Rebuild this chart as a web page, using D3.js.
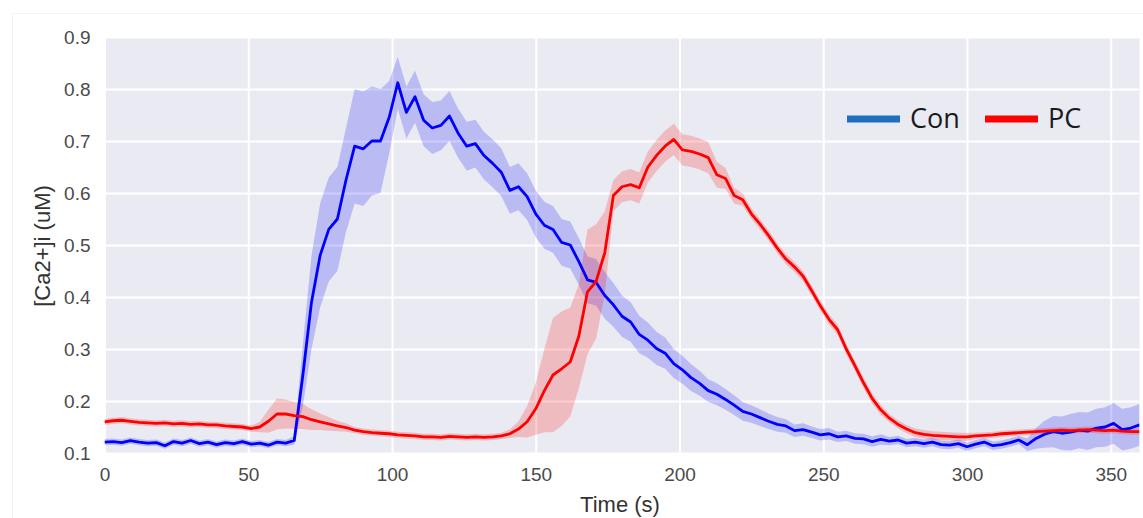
<!DOCTYPE html>
<html>
<head>
<meta charset="utf-8">
<script src="https://cdn.jsdelivr.net/npm/d3@7"></script>
<style>
  html, body { margin: 0; padding: 0; background: #ffffff; }
  svg { display: block; }
</style>
</head>
<body>
<svg id="chart" width="1143" height="518"></svg>
<script>
// ---- data ----
const timeStep = 3; // seconds between samples, t = 0, 3, ..., 360
const xTicks = [0, 50, 100, 150, 200, 250, 300, 350];
const yTicks = [0.1, 0.2, 0.3, 0.4, 0.5, 0.6, 0.7, 0.8, 0.9];
const seriesNames = ["Con", "PC"];

const conMean = [
  0.121,0.122,0.120,0.124,0.121,0.119,0.120,0.114,0.122,0.119,
  0.124,0.118,0.121,0.116,0.120,0.118,0.122,0.117,0.119,0.115,
  0.121,0.119,0.124,0.250,0.390,0.480,0.530,0.550,0.625,0.690,
  0.685,0.700,0.700,0.745,0.812,0.755,0.785,0.740,0.725,0.730,
  0.748,0.715,0.690,0.695,0.672,0.657,0.640,0.605,0.612,0.593,
  0.560,0.538,0.530,0.505,0.500,0.468,0.433,0.428,0.403,0.385,
  0.363,0.352,0.328,0.317,0.301,0.292,0.272,0.260,0.245,0.234,
  0.220,0.213,0.203,0.192,0.180,0.175,0.168,0.161,0.155,0.152,
  0.143,0.145,0.140,0.135,0.137,0.131,0.133,0.128,0.127,0.122,
  0.126,0.123,0.125,0.119,0.121,0.118,0.121,0.116,0.115,0.118,
  0.112,0.117,0.121,0.114,0.116,0.120,0.125,0.116,0.128,0.136,
  0.141,0.138,0.140,0.144,0.142,0.148,0.150,0.157,0.145,0.148,
  0.154
];
const conSem = [
  0.006,0.006,0.006,0.006,0.006,0.006,0.006,0.006,0.006,0.006,
  0.006,0.006,0.006,0.006,0.006,0.006,0.006,0.006,0.006,0.006,
  0.006,0.006,0.008,0.060,0.090,0.100,0.100,0.100,0.100,0.110,
  0.110,0.105,0.100,0.070,0.050,0.050,0.050,0.050,0.050,0.048,
  0.048,0.047,0.047,0.046,0.046,0.046,0.046,0.045,0.045,0.045,
  0.045,0.045,0.045,0.045,0.045,0.045,0.045,0.045,0.045,0.042,
  0.040,0.038,0.036,0.034,0.032,0.030,0.028,0.027,0.026,0.024,
  0.022,0.021,0.020,0.019,0.018,0.017,0.016,0.015,0.014,0.013,
  0.012,0.012,0.011,0.011,0.011,0.010,0.010,0.010,0.010,0.010,
  0.010,0.008,0.008,0.008,0.008,0.008,0.008,0.008,0.008,0.008,
  0.008,0.008,0.008,0.008,0.008,0.008,0.008,0.012,0.020,0.026,
  0.030,0.032,0.035,0.035,0.036,0.037,0.038,0.039,0.040,0.040,
  0.040
];
const pcMean = [
  0.160,0.162,0.163,0.161,0.159,0.158,0.157,0.158,0.156,0.157,
  0.155,0.156,0.154,0.154,0.152,0.151,0.150,0.147,0.150,0.161,
  0.175,0.175,0.172,0.170,0.164,0.160,0.156,0.152,0.149,0.144,
  0.141,0.139,0.138,0.137,0.135,0.134,0.133,0.131,0.131,0.130,
  0.132,0.131,0.130,0.131,0.130,0.131,0.133,0.137,0.146,0.160,
  0.185,0.220,0.250,0.262,0.275,0.325,0.410,0.430,0.485,0.595,
  0.612,0.616,0.610,0.650,0.672,0.690,0.703,0.683,0.680,0.675,
  0.668,0.635,0.628,0.595,0.587,0.560,0.540,0.518,0.494,0.473,
  0.458,0.440,0.412,0.383,0.357,0.337,0.300,0.268,0.235,0.205,
  0.183,0.167,0.155,0.146,0.139,0.136,0.134,0.133,0.132,0.131,
  0.131,0.133,0.134,0.135,0.137,0.138,0.139,0.140,0.141,0.142,
  0.143,0.144,0.143,0.144,0.145,0.144,0.143,0.144,0.142,0.141,
  0.141
];
const pcSem = [
  0.006,0.006,0.006,0.006,0.006,0.006,0.006,0.006,0.006,0.006,
  0.006,0.006,0.006,0.006,0.006,0.006,0.006,0.006,0.010,0.022,
  0.030,0.028,0.026,0.024,0.020,0.016,0.013,0.010,0.008,0.006,
  0.006,0.006,0.006,0.006,0.006,0.006,0.006,0.006,0.006,0.006,
  0.006,0.006,0.006,0.006,0.006,0.006,0.006,0.008,0.015,0.030,
  0.050,0.080,0.110,0.110,0.105,0.100,0.120,0.110,0.080,0.030,
  0.030,0.030,0.030,0.030,0.030,0.030,0.030,0.030,0.030,0.030,
  0.030,0.025,0.020,0.015,0.012,0.010,0.010,0.010,0.010,0.010,
  0.010,0.010,0.010,0.010,0.010,0.010,0.010,0.010,0.010,0.010,
  0.010,0.008,0.008,0.008,0.008,0.008,0.008,0.008,0.008,0.008,
  0.008,0.006,0.006,0.006,0.006,0.006,0.006,0.006,0.006,0.006,
  0.006,0.006,0.006,0.006,0.006,0.006,0.006,0.006,0.006,0.006,
  0.006
];

// ---- layout ----
const svg = d3.select("#chart");
const W = 1143, H = 518;
const plot = { left: 104.5, right: 1139.5, top: 37, bottom: 453 };

const x = d3.scaleLinear().domain([0, 360]).range([plot.left, plot.right]);
const y = d3.scaleLinear().domain([0.1, 0.9]).range([plot.bottom, plot.top]);

// faint outer frame
svg.append("rect")
  .attr("x", 12.5).attr("y", 13.5).attr("width", W - 12).attr("height", H - 12)
  .attr("fill", "#ffffff").attr("stroke", "#f3f3f3").attr("stroke-width", 1);

// plot background
svg.append("rect")
  .attr("x", plot.left).attr("y", plot.top)
  .attr("width", plot.right - plot.left).attr("height", plot.bottom - plot.top)
  .attr("fill", "#EAEAF2");

// gridlines via axes
const gx = svg.append("g")
  .attr("transform", `translate(0,${plot.bottom})`)
  .call(d3.axisBottom(x).tickValues(xTicks).tickSize(-(plot.bottom - plot.top)).tickFormat(d => d).tickPadding(14));
const gy = svg.append("g")
  .attr("transform", `translate(${plot.left},0)`)
  .call(d3.axisLeft(y).tickValues(yTicks).tickSize(-(plot.right - plot.left)).tickFormat(d3.format(".1f")).tickPadding(14));

[gx, gy].forEach(g => {
  g.select(".domain").remove();
  g.selectAll(".tick line").attr("stroke", "#ffffff").attr("stroke-width", 2);
  g.selectAll(".tick text")
    .attr("fill", "#4a4a4a")
    .attr("font-family", "'Liberation Sans', Arial, sans-serif")
    .attr("font-size", 19);
});
gy.selectAll(".tick text").attr("dy", "0.36em");
gx.selectAll(".tick text").attr("dy", "0.72em");

// data rows
const times = conMean.map((_, i) => i * timeStep);
function rows(mean, sem) {
  return times.map((t, i) => ({ t, m: mean[i], lo: mean[i] - sem[i], hi: mean[i] + sem[i] }));
}
const conRows = rows(conMean, conSem);
const pcRows = rows(pcMean, pcSem);

svg.append("clipPath").attr("id", "plotclip")
  .append("rect").attr("x", plot.left).attr("y", plot.top)
  .attr("width", plot.right - plot.left).attr("height", plot.bottom - plot.top);

const area = d3.area().x(d => x(d.t)).y0(d => y(d.lo)).y1(d => y(d.hi));
const line = d3.line().x(d => x(d.t)).y(d => y(d.m));

const layer = svg.append("g").attr("clip-path", "url(#plotclip)");
const seriesColors = { Con: "#0000FF", PC: "#FF0000" };

layer.append("path").datum(conRows).attr("d", area)
  .attr("fill", seriesColors.Con).attr("fill-opacity", 0.2);
layer.append("path").datum(pcRows).attr("d", area)
  .attr("fill", seriesColors.PC).attr("fill-opacity", 0.2);
layer.append("path").datum(conRows).attr("d", line)
  .attr("fill", "none").attr("stroke", seriesColors.Con).attr("stroke-width", 2.8)
  .attr("stroke-linejoin", "round");
layer.append("path").datum(pcRows).attr("d", line)
  .attr("fill", "none").attr("stroke", seriesColors.PC).attr("stroke-width", 2.8)
  .attr("stroke-linejoin", "round");

// axis labels
svg.append("text")
  .attr("x", 620).attr("y", 512)
  .attr("text-anchor", "middle")
  .attr("font-family", "'Liberation Sans', Arial, sans-serif")
  .attr("font-size", 22).attr("fill", "#333333")
  .text("Time (s)");
svg.append("text")
  .attr("transform", "translate(50,246) rotate(-90)")
  .attr("text-anchor", "middle")
  .attr("font-family", "'Liberation Sans', Arial, sans-serif")
  .attr("font-size", 22).attr("fill", "#333333")
  .text("[Ca2+]i (uM)");

// legend
const legendColors = ["#1F6FC0", "#FF0000"];
const legendX = [847, 985];
const leg = svg.append("g");
seriesNames.forEach((name, i) => {
  leg.append("line")
    .attr("x1", legendX[i]).attr("x2", legendX[i] + 53)
    .attr("y1", 119).attr("y2", 119)
    .attr("stroke", legendColors[i]).attr("stroke-width", 7);
  leg.append("text")
    .attr("x", legendX[i] + 63).attr("y", 128)
    .attr("font-family", "'Open Sans', 'Noto Sans', sans-serif")
    .attr("font-size", 27).attr("fill", "#1a1a1a")
    .text(name);
});
</script>
</body>
</html>
